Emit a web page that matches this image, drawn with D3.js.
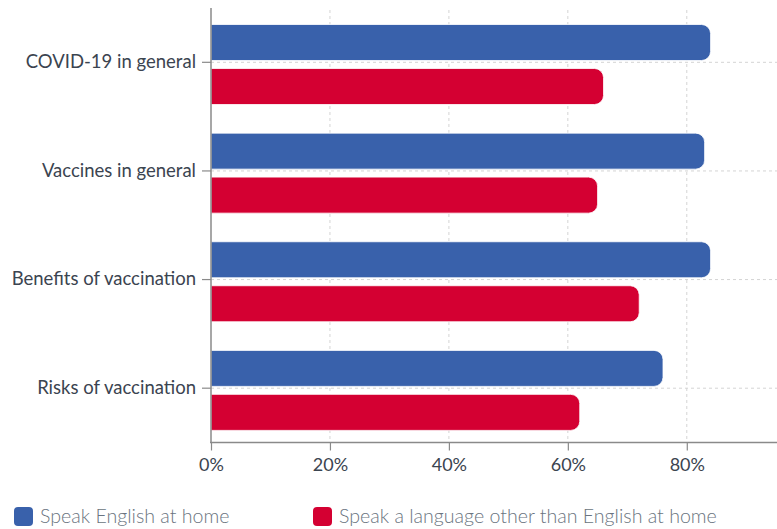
<!DOCTYPE html>
<html>
<head>
<meta charset="utf-8">
<script src="https://cdn.jsdelivr.net/npm/d3@7"></script>
<style>
  html, body { margin: 0; padding: 0; background: #fff; }
  svg { display: block; font-family: Lato, "Open Sans", sans-serif; }
</style>
</head>
<body>
<svg id="chart" width="777" height="529"></svg>
<script>
// Share of respondents who trust information on each topic, by language spoken at home
const categories = ["COVID-19 in general", "Vaccines in general", "Benefits of vaccination", "Risks of vaccination"];
const seriesNames = ["Speak English at home", "Speak a language other than English at home"];
const englishValues = [84, 83, 84, 76];
const otherLanguageValues = [66, 65, 72, 62];
const xTicks = [0, 20, 40, 60, 80];
const seriesColors = ["#3961ab", "#d40032"];

const svg = d3.select("#chart");
const W = 777, H = 529;
const plot = { left: 211, right: 776, top: 8, bottom: 442.5 };

const x = d3.scaleLinear().domain([0, 95]).range([plot.left, plot.right]);
const y0 = d3.scaleBand().domain(categories).range([plot.top, plot.bottom]).paddingInner(0).paddingOuter(0);
const y1 = d3.scaleBand().domain(seriesNames).range([16.5, 96.5]).paddingInner(0.1818);

const rows = categories.map((c, i) => ({
  category: c,
  values: [englishValues[i], otherLanguageValues[i]]
}));

// Grid lines
const grid = svg.append("g").attr("class", "grid");
grid.selectAll("line.v")
  .data(xTicks.filter(t => t > 0))
  .join("line")
  .attr("x1", d => x(d)).attr("x2", d => x(d))
  .attr("y1", 10).attr("y2", plot.bottom)
  .attr("stroke", "#d4d4d4").attr("stroke-width", 1).attr("stroke-dasharray", "3,3");
grid.selectAll("line.h")
  .data(categories)
  .join("line")
  .attr("x1", plot.left).attr("x2", W)
  .attr("y1", d => y0(d) + y0.bandwidth() / 2).attr("y2", d => y0(d) + y0.bandwidth() / 2)
  .attr("stroke", "#d4d4d4").attr("stroke-width", 1).attr("stroke-dasharray", "3,3");

// Bar with rounded right end
function barPath(x0, x1, yTop, h, r) {
  r = Math.min(r, h / 2, x1 - x0);
  return `M${x0},${yTop}H${x1 - r}A${r},${r} 0 0 1 ${x1},${yTop + r}` +
         `V${yTop + h - r}A${r},${r} 0 0 1 ${x1 - r},${yTop + h}H${x0}Z`;
}

const groups = svg.append("g").selectAll("g.row")
  .data(rows)
  .join("g")
  .attr("transform", d => `translate(0,${y0(d.category)})`);

groups.selectAll("path")
  .data(d => d.values.map((v, i) => ({ series: seriesNames[i], value: v, idx: i })))
  .join("path")
  .attr("d", d => barPath(x(0), x(d.value), y1(d.series), y1.bandwidth(), 9))
  .attr("fill", d => seriesColors[d.idx])
  .attr("stroke", "#ffffff").attr("stroke-width", 0.8);

// Y axis
const yAxis = svg.append("g")
  .attr("transform", `translate(${plot.left},0)`)
  .call(d3.axisLeft(y0).tickSize(9).tickPadding(6).tickSizeOuter(0));
yAxis.select(".domain").attr("stroke", "#8a8a8a").attr("stroke-width", 1.5)
  .attr("d", `M0,${plot.top}V${plot.bottom}`);
yAxis.selectAll(".tick line").attr("stroke", "#8a8a8a").attr("stroke-width", 1.2);
yAxis.selectAll(".tick text")
  .attr("fill", "#3b4450").attr("font-size", 18.5).attr("font-family", "Lato, sans-serif");

// X axis
const xAxis = svg.append("g")
  .attr("transform", `translate(0,${plot.bottom})`)
  .call(d3.axisBottom(x).tickValues(xTicks).tickFormat(d => d + "%").tickSize(8).tickPadding(8).tickSizeOuter(0));
xAxis.select(".domain").attr("stroke", "#8a8a8a").attr("stroke-width", 1.5)
  .attr("d", `M${plot.left - 1},0H${W}`);
xAxis.selectAll(".tick line").attr("stroke", "#8a8a8a").attr("stroke-width", 1.2);
xAxis.selectAll(".tick text")
  .attr("fill", "#3b4450").attr("font-size", 18).attr("font-family", "Lato, sans-serif");

// Legend
const legendX = [14, 313];
const legend = svg.append("g").selectAll("g.item")
  .data(seriesNames)
  .join("g")
  .attr("transform", (d, i) => `translate(${legendX[i]},507)`);
legend.append("rect")
  .attr("width", 19).attr("height", 19).attr("rx", 4)
  .attr("fill", (d, i) => seriesColors[i]);
legend.append("text")
  .attr("x", 26).attr("y", 16)
  .attr("fill", "#6a7480").attr("font-size", 19.6).attr("font-weight", 300)
  .attr("font-family", "Lato, sans-serif")
  .text(d => d);
</script>
</body>
</html>
